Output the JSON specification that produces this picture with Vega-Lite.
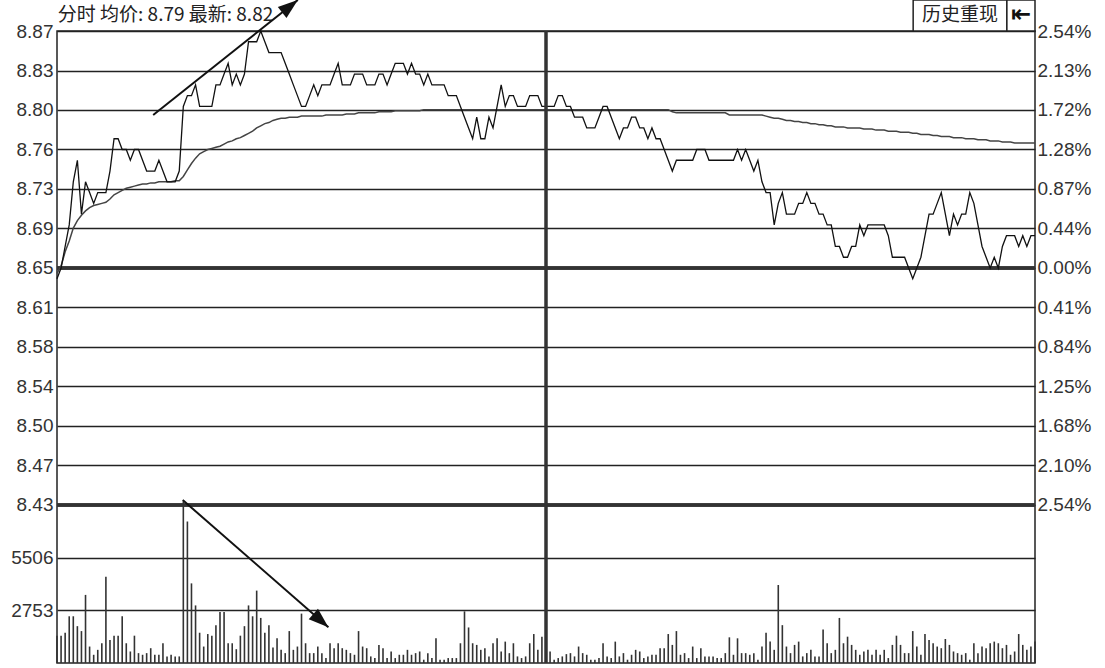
{
"$schema": "https://vega.github.io/schema/vega-lite/v6.json",
"width": 978,
"height": 632,
"autosize": "none",
"padding": {"left": 57, "top": 31, "right": 70, "bottom": 5},
"background": "white",
"config": {"view": {"stroke": "#222", "strokeWidth": 1.5}, "font": "Liberation Sans"},
"datasets": {
"one": [{}],
"levels": [{"p": 8.65}, {"p": 8.43}],
"minute": [
{"t":0,"p":8.64,"a":8.645,"v":1428},{"t":1,"p":8.65,"a":8.652,"v":1428},{"t":2,"p":8.67,"a":8.665,"v":1582},{"t":3,"p":8.69,"a":8.675,"v":2442},{"t":4,"p":8.73,"a":8.687,"v":2442},{"t":5,"p":8.75,"a":8.694,"v":1926},{"t":6,"p":8.70,"a":8.699,"v":1668},{"t":7,"p":8.73,"a":8.703,"v":3560},{"t":8,"p":8.72,"a":8.706,"v":860},{"t":9,"p":8.71,"a":8.708,"v":430},
{"t":10,"p":8.72,"a":8.709,"v":688},{"t":11,"p":8.72,"a":8.71,"v":1032},{"t":12,"p":8.72,"a":8.711,"v":4506},{"t":13,"p":8.74,"a":8.714,"v":1204},{"t":14,"p":8.77,"a":8.718,"v":1428},{"t":15,"p":8.77,"a":8.72,"v":1428},{"t":16,"p":8.76,"a":8.722,"v":2442},{"t":17,"p":8.76,"a":8.724,"v":1032},{"t":18,"p":8.75,"a":8.725,"v":602},{"t":19,"p":8.76,"a":8.726,"v":1428},
{"t":20,"p":8.76,"a":8.727,"v":516},{"t":21,"p":8.75,"a":8.728,"v":430},{"t":22,"p":8.74,"a":8.728,"v":516},{"t":23,"p":8.74,"a":8.729,"v":774},{"t":24,"p":8.74,"a":8.729,"v":430},{"t":25,"p":8.75,"a":8.73,"v":430},{"t":26,"p":8.74,"a":8.73,"v":1032},{"t":27,"p":8.73,"a":8.73,"v":344},{"t":28,"p":8.73,"a":8.73,"v":430},{"t":29,"p":8.73,"a":8.731,"v":344},
{"t":30,"p":8.74,"a":8.731,"v":344},{"t":31,"p":8.80,"a":8.735,"v":8450},{"t":32,"p":8.81,"a":8.741,"v":7396},{"t":33,"p":8.81,"a":8.747,"v":4162},{"t":34,"p":8.82,"a":8.752,"v":3010},{"t":35,"p":8.80,"a":8.756,"v":1582},{"t":36,"p":8.80,"a":8.758,"v":860},{"t":37,"p":8.80,"a":8.76,"v":1514},{"t":38,"p":8.80,"a":8.761,"v":1428},{"t":39,"p":8.82,"a":8.762,"v":1978},
{"t":40,"p":8.82,"a":8.763,"v":2666},{"t":41,"p":8.83,"a":8.765,"v":2666},{"t":42,"p":8.84,"a":8.767,"v":1032},{"t":43,"p":8.82,"a":8.768,"v":1032},{"t":44,"p":8.83,"a":8.77,"v":722},{"t":45,"p":8.82,"a":8.771,"v":1428},{"t":46,"p":8.83,"a":8.773,"v":1926},{"t":47,"p":8.86,"a":8.775,"v":3010},{"t":48,"p":8.86,"a":8.777,"v":2442},{"t":49,"p":8.86,"a":8.78,"v":3784},
{"t":50,"p":8.87,"a":8.782,"v":2356},{"t":51,"p":8.86,"a":8.784,"v":1582},{"t":52,"p":8.85,"a":8.785,"v":1978},{"t":53,"p":8.85,"a":8.787,"v":808},{"t":54,"p":8.85,"a":8.788,"v":1290},{"t":55,"p":8.85,"a":8.789,"v":688},{"t":56,"p":8.84,"a":8.789,"v":516},{"t":57,"p":8.83,"a":8.79,"v":1668},{"t":58,"p":8.82,"a":8.79,"v":688},{"t":59,"p":8.81,"a":8.79,"v":860},
{"t":60,"p":8.80,"a":8.791,"v":2580},{"t":61,"p":8.80,"a":8.791,"v":1032},{"t":62,"p":8.81,"a":8.791,"v":516},{"t":63,"p":8.82,"a":8.791,"v":516},{"t":64,"p":8.81,"a":8.791,"v":860},{"t":65,"p":8.82,"a":8.791,"v":516},{"t":66,"p":8.82,"a":8.792,"v":258},{"t":67,"p":8.82,"a":8.792,"v":1032},{"t":68,"p":8.83,"a":8.792,"v":774},{"t":69,"p":8.84,"a":8.792,"v":1032},
{"t":70,"p":8.82,"a":8.792,"v":774},{"t":71,"p":8.82,"a":8.793,"v":688},{"t":72,"p":8.82,"a":8.793,"v":516},{"t":73,"p":8.83,"a":8.793,"v":430},{"t":74,"p":8.83,"a":8.794,"v":1668},{"t":75,"p":8.83,"a":8.794,"v":860},{"t":76,"p":8.82,"a":8.794,"v":774},{"t":77,"p":8.82,"a":8.794,"v":344},{"t":78,"p":8.82,"a":8.794,"v":258},{"t":79,"p":8.83,"a":8.795,"v":946},
{"t":80,"p":8.83,"a":8.795,"v":774},{"t":81,"p":8.82,"a":8.795,"v":258},{"t":82,"p":8.83,"a":8.795,"v":602},{"t":83,"p":8.84,"a":8.796,"v":258},{"t":84,"p":8.84,"a":8.796,"v":430},{"t":85,"p":8.84,"a":8.796,"v":430},{"t":86,"p":8.83,"a":8.796,"v":688},{"t":87,"p":8.84,"a":8.796,"v":430},{"t":88,"p":8.83,"a":8.796,"v":516},{"t":89,"p":8.83,"a":8.796,"v":602},
{"t":90,"p":8.82,"a":8.797,"v":172},{"t":91,"p":8.83,"a":8.797,"v":516},{"t":92,"p":8.82,"a":8.797,"v":258},{"t":93,"p":8.82,"a":8.797,"v":1290},{"t":94,"p":8.82,"a":8.797,"v":172},{"t":95,"p":8.82,"a":8.797,"v":172},{"t":96,"p":8.81,"a":8.797,"v":258},{"t":97,"p":8.81,"a":8.797,"v":258},{"t":98,"p":8.81,"a":8.797,"v":258},{"t":99,"p":8.80,"a":8.797,"v":1032},
{"t":100,"p":8.79,"a":8.797,"v":2700},{"t":101,"p":8.78,"a":8.797,"v":1858},{"t":102,"p":8.77,"a":8.797,"v":1032},{"t":103,"p":8.79,"a":8.797,"v":946},{"t":104,"p":8.77,"a":8.797,"v":688},{"t":105,"p":8.77,"a":8.797,"v":774},{"t":106,"p":8.79,"a":8.797,"v":344},{"t":107,"p":8.78,"a":8.797,"v":1032},{"t":108,"p":8.80,"a":8.797,"v":1290},{"t":109,"p":8.82,"a":8.797,"v":602},
{"t":110,"p":8.80,"a":8.797,"v":1118},{"t":111,"p":8.81,"a":8.797,"v":516},{"t":112,"p":8.81,"a":8.797,"v":1032},{"t":113,"p":8.80,"a":8.797,"v":344},{"t":114,"p":8.80,"a":8.797,"v":258},{"t":115,"p":8.80,"a":8.797,"v":344},{"t":116,"p":8.81,"a":8.797,"v":1032},{"t":117,"p":8.81,"a":8.797,"v":1514},{"t":118,"p":8.81,"a":8.797,"v":688},{"t":119,"p":8.80,"a":8.797,"v":1376},
{"t":120,"p":8.80,"a":8.797,"v":600},{"t":121,"p":8.80,"a":8.797,"v":602},{"t":122,"p":8.80,"a":8.797,"v":172},{"t":123,"p":8.81,"a":8.797,"v":258},{"t":124,"p":8.81,"a":8.797,"v":344},{"t":125,"p":8.80,"a":8.797,"v":464},{"t":126,"p":8.80,"a":8.797,"v":516},{"t":127,"p":8.79,"a":8.797,"v":344},{"t":128,"p":8.79,"a":8.797,"v":860},{"t":129,"p":8.79,"a":8.797,"v":516},
{"t":130,"p":8.78,"a":8.797,"v":430},{"t":131,"p":8.78,"a":8.797,"v":172},{"t":132,"p":8.78,"a":8.797,"v":172},{"t":133,"p":8.79,"a":8.797,"v":258},{"t":134,"p":8.80,"a":8.797,"v":1032},{"t":135,"p":8.80,"a":8.797,"v":344},{"t":136,"p":8.79,"a":8.797,"v":258},{"t":137,"p":8.78,"a":8.797,"v":1118},{"t":138,"p":8.77,"a":8.797,"v":344},{"t":139,"p":8.78,"a":8.797,"v":516},
{"t":140,"p":8.78,"a":8.797,"v":172},{"t":141,"p":8.79,"a":8.797,"v":430},{"t":142,"p":8.79,"a":8.797,"v":688},{"t":143,"p":8.78,"a":8.797,"v":602},{"t":144,"p":8.78,"a":8.797,"v":258},{"t":145,"p":8.77,"a":8.797,"v":344},{"t":146,"p":8.78,"a":8.797,"v":430},{"t":147,"p":8.77,"a":8.797,"v":430},{"t":148,"p":8.77,"a":8.797,"v":774},{"t":149,"p":8.76,"a":8.797,"v":774},
{"t":150,"p":8.75,"a":8.797,"v":1514},{"t":151,"p":8.74,"a":8.795,"v":946},{"t":152,"p":8.75,"a":8.794,"v":1668},{"t":153,"p":8.75,"a":8.794,"v":430},{"t":154,"p":8.75,"a":8.794,"v":516},{"t":155,"p":8.75,"a":8.794,"v":258},{"t":156,"p":8.75,"a":8.794,"v":860},{"t":157,"p":8.76,"a":8.794,"v":258},{"t":158,"p":8.76,"a":8.794,"v":774},{"t":159,"p":8.76,"a":8.794,"v":344},
{"t":160,"p":8.75,"a":8.794,"v":344},{"t":161,"p":8.75,"a":8.794,"v":344},{"t":162,"p":8.75,"a":8.794,"v":258},{"t":163,"p":8.75,"a":8.794,"v":258},{"t":164,"p":8.75,"a":8.794,"v":516},{"t":165,"p":8.75,"a":8.792,"v":1342},{"t":166,"p":8.75,"a":8.792,"v":430},{"t":167,"p":8.76,"a":8.792,"v":1290},{"t":168,"p":8.75,"a":8.792,"v":516},{"t":169,"p":8.76,"a":8.792,"v":516},
{"t":170,"p":8.75,"a":8.792,"v":430},{"t":171,"p":8.74,"a":8.792,"v":516},{"t":172,"p":8.75,"a":8.792,"v":172},{"t":173,"p":8.73,"a":8.792,"v":860},{"t":174,"p":8.72,"a":8.791,"v":1582},{"t":175,"p":8.72,"a":8.79,"v":1118},{"t":176,"p":8.69,"a":8.789,"v":688},{"t":177,"p":8.71,"a":8.789,"v":4076},{"t":178,"p":8.72,"a":8.788,"v":1978},{"t":179,"p":8.70,"a":8.787,"v":860},
{"t":180,"p":8.70,"a":8.787,"v":516},{"t":181,"p":8.70,"a":8.786,"v":946},{"t":182,"p":8.71,"a":8.786,"v":1118},{"t":183,"p":8.71,"a":8.785,"v":344},{"t":184,"p":8.72,"a":8.785,"v":516},{"t":185,"p":8.71,"a":8.784,"v":688},{"t":186,"p":8.71,"a":8.784,"v":344},{"t":187,"p":8.70,"a":8.783,"v":344},{"t":188,"p":8.70,"a":8.783,"v":1754},{"t":189,"p":8.69,"a":8.782,"v":1032},
{"t":190,"p":8.69,"a":8.782,"v":516},{"t":191,"p":8.67,"a":8.781,"v":688},{"t":192,"p":8.67,"a":8.781,"v":2356},{"t":193,"p":8.66,"a":8.781,"v":1032},{"t":194,"p":8.66,"a":8.78,"v":1376},{"t":195,"p":8.67,"a":8.78,"v":946},{"t":196,"p":8.67,"a":8.78,"v":688},{"t":197,"p":8.69,"a":8.78,"v":430},{"t":198,"p":8.68,"a":8.779,"v":602},{"t":199,"p":8.69,"a":8.779,"v":688},
{"t":200,"p":8.69,"a":8.779,"v":430},{"t":201,"p":8.69,"a":8.778,"v":688},{"t":202,"p":8.69,"a":8.778,"v":430},{"t":203,"p":8.69,"a":8.778,"v":688},{"t":204,"p":8.68,"a":8.777,"v":258},{"t":205,"p":8.66,"a":8.777,"v":946},{"t":206,"p":8.66,"a":8.777,"v":1428},{"t":207,"p":8.66,"a":8.776,"v":946},{"t":208,"p":8.66,"a":8.776,"v":516},{"t":209,"p":8.65,"a":8.776,"v":516},
{"t":210,"p":8.64,"a":8.775,"v":1668},{"t":211,"p":8.65,"a":8.775,"v":860},{"t":212,"p":8.66,"a":8.774,"v":430},{"t":213,"p":8.68,"a":8.774,"v":1514},{"t":214,"p":8.70,"a":8.774,"v":1204},{"t":215,"p":8.70,"a":8.773,"v":1032},{"t":216,"p":8.71,"a":8.773,"v":860},{"t":217,"p":8.72,"a":8.772,"v":774},{"t":218,"p":8.70,"a":8.772,"v":1256},{"t":219,"p":8.68,"a":8.772,"v":946},
{"t":220,"p":8.70,"a":8.771,"v":602},{"t":221,"p":8.69,"a":8.771,"v":516},{"t":222,"p":8.70,"a":8.771,"v":430},{"t":223,"p":8.70,"a":8.77,"v":516},{"t":224,"p":8.72,"a":8.77,"v":172},{"t":225,"p":8.71,"a":8.77,"v":1032},{"t":226,"p":8.69,"a":8.769,"v":516},{"t":227,"p":8.67,"a":8.769,"v":860},{"t":228,"p":8.66,"a":8.769,"v":774},{"t":229,"p":8.65,"a":8.768,"v":1032},
{"t":230,"p":8.66,"a":8.768,"v":1118},{"t":231,"p":8.65,"a":8.768,"v":1032},{"t":232,"p":8.67,"a":8.767,"v":774},{"t":233,"p":8.68,"a":8.767,"v":946},{"t":234,"p":8.68,"a":8.767,"v":430},{"t":235,"p":8.68,"a":8.766,"v":602},{"t":236,"p":8.67,"a":8.766,"v":1514},{"t":237,"p":8.68,"a":8.766,"v":946},{"t":238,"p":8.67,"a":8.766,"v":688},{"t":239,"p":8.68,"a":8.766,"v":860},
{"t":240,"p":8.68,"a":8.766,"v":1118}
]
},
"layer": [
{
"data": {"name": "minute"},
"mark": {"type": "rule", "strokeWidth": 1.6, "color": "#333"},
"encoding": {
"x": {"field": "t", "type": "quantitative", "scale": {"domain": [0, 240], "nice": false, "zero": false}, "axis": null},
"y": {"field": "v", "type": "quantitative", "scale": {"domain": [0, 33036], "nice": false}, "axis": {"orient": "left", "values": [2753, 5506], "format": "d", "title": null, "ticks": false, "domain": false, "labelPadding": 4, "labelFont": "Liberation Sans", "labelFontSize": 19, "labelColor": "#333", "grid": true, "gridColor": "#222", "gridWidth": 1.6}},
"y2": {"datum": 0}
}
},
{
"data": {"name": "levels"},
"mark": {"type": "rule", "strokeWidth": 3.5, "color": "#333"},
"encoding": {
"y": {"field": "p", "type": "quantitative", "scale": {"domain": [8.28333, 8.87], "nice": false, "zero": false}, "axis": {"orient": "left", "values": [8.43, 8.466667, 8.503333, 8.54, 8.576667, 8.613333, 8.65, 8.686667, 8.723333, 8.76, 8.796667, 8.833333, 8.87], "labelExpr": "['8.43','8.47','8.50','8.54','8.58','8.61','8.65','8.69','8.73','8.76','8.80','8.83','8.87'][round((datum.value-8.43)/0.0366667)]", "title": null, "ticks": false, "domain": false, "labelPadding": 4, "labelFont": "Liberation Sans", "labelFontSize": 19, "labelColor": "#333", "grid": true, "gridColor": "#222", "gridWidth": 1.6}}
}
},
{
"data": {"name": "levels"},
"mark": {"type": "rule", "strokeWidth": 3.5, "color": "#333"},
"encoding": {
"y": {"field": "p", "type": "quantitative", "scale": {"domain": [8.28333, 8.87], "nice": false, "zero": false}, "axis": {"orient": "right", "values": [8.43, 8.466667, 8.503333, 8.54, 8.576667, 8.613333, 8.65, 8.686667, 8.723333, 8.76, 8.796667, 8.833333, 8.87], "labelExpr": "['2.54%','2.10%','1.68%','1.25%','0.84%','0.41%','0.00%','0.44%','0.87%','1.28%','1.72%','2.13%','2.54%'][round((datum.value-8.43)/0.0366667)]", "title": null, "ticks": false, "domain": false, "labelPadding": 2, "labelFont": "Liberation Sans", "labelFontSize": 19, "labelColor": "#333", "grid": false}}
}
},
{
"data": {"name": "minute"},
"mark": {"type": "line", "strokeWidth": 1.5, "color": "#444"},
"encoding": {
"x": {"field": "t", "type": "quantitative", "scale": {"domain": [0, 240], "nice": false, "zero": false}, "axis": null},
"y": {"field": "a", "type": "quantitative", "scale": {"domain": [8.28333, 8.87], "nice": false, "zero": false}, "axis": null}
}
},
{
"data": {"name": "minute"},
"mark": {"type": "line", "strokeWidth": 1.3, "color": "#111"},
"encoding": {
"x": {"field": "t", "type": "quantitative", "scale": {"domain": [0, 240], "nice": false, "zero": false}, "axis": null},
"y": {"field": "p", "type": "quantitative", "scale": {"domain": [8.28333, 8.87], "nice": false, "zero": false}, "axis": null}
}
},
{
"data": {"name": "one"},
"mark": {"type": "rule", "strokeWidth": 3.5, "color": "#333"},
"encoding": {"x": {"datum": 120, "type": "quantitative", "scale": {"domain": [0, 240], "nice": false, "zero": false}, "axis": null}}
},
{
"data": {"name": "one"},
"mark": {"type": "text", "font": "Noto Sans CJK SC", "fontSize": 19, "color": "#222", "align": "left", "baseline": "middle"},
"encoding": {
"x": {"datum": 0.2, "type": "quantitative", "scale": {"domain": [0, 240], "nice": false, "zero": false}, "axis": null},
"y": {"datum": 8.8849, "type": "quantitative", "scale": {"domain": [8.28333, 8.87], "nice": false, "zero": false}, "axis": null},
"text": {"value": "分时 均价: 8.79 最新: 8.82"}
}
},
{
"data": {"name": "one"},
"mark": {"type": "rule", "strokeWidth": 2, "color": "#111"},
"encoding": {
"x": {"datum": 23.6, "type": "quantitative", "scale": {"domain": [0, 240], "nice": false, "zero": false}, "axis": null},
"x2": {"datum": 59.1},
"y": {"datum": 8.792, "type": "quantitative", "scale": {"domain": [8.28333, 8.87], "nice": false, "zero": false}, "axis": null},
"y2": {"datum": 8.8988}
}
},
{
"data": {"name": "one"},
"mark": {"type": "point", "shape": "M0,0L0.7,2L-0.7,2Z", "filled": true, "size": 400, "color": "#111", "opacity": 1, "angle": 51.6},
"encoding": {
"x": {"datum": 59.1, "type": "quantitative", "scale": {"domain": [0, 240], "nice": false, "zero": false}, "axis": null},
"y": {"datum": 8.8988, "type": "quantitative", "scale": {"domain": [8.28333, 8.87], "nice": false, "zero": false}, "axis": null}
}
},
{
"data": {"name": "one"},
"mark": {"type": "rule", "strokeWidth": 2, "color": "#111"},
"encoding": {
"x": {"datum": 30.85, "type": "quantitative", "scale": {"domain": [0, 240], "nice": false, "zero": false}, "axis": null},
"x2": {"datum": 66.6},
"y": {"datum": 8.4346, "type": "quantitative", "scale": {"domain": [8.28333, 8.87], "nice": false, "zero": false}, "axis": null},
"y2": {"datum": 8.3165}
}
},
{
"data": {"name": "one"},
"mark": {"type": "point", "shape": "M0,0L0.7,2L-0.7,2Z", "filled": true, "size": 400, "color": "#111", "opacity": 1, "angle": 131.2},
"encoding": {
"x": {"datum": 66.6, "type": "quantitative", "scale": {"domain": [0, 240], "nice": false, "zero": false}, "axis": null},
"y": {"datum": 8.3165, "type": "quantitative", "scale": {"domain": [8.28333, 8.87], "nice": false, "zero": false}, "axis": null}
}
},
{
"data": {"name": "one"},
"mark": {"type": "rect", "fill": "white", "stroke": "#222", "strokeWidth": 1.5},
"encoding": {
"x": {"datum": 210.1, "type": "quantitative", "scale": {"domain": [0, 240], "nice": false, "zero": false}, "axis": null},
"x2": {"datum": 233.1},
"y": {"datum": 8.8988, "type": "quantitative", "scale": {"domain": [8.28333, 8.87], "nice": false, "zero": false}, "axis": null},
"y2": {"datum": 8.87}
}
},
{
"data": {"name": "one"},
"mark": {"type": "rect", "fill": "white", "stroke": "#222", "strokeWidth": 1.5},
"encoding": {
"x": {"datum": 233.1, "type": "quantitative", "scale": {"domain": [0, 240], "nice": false, "zero": false}, "axis": null},
"x2": {"datum": 240},
"y": {"datum": 8.8988, "type": "quantitative", "scale": {"domain": [8.28333, 8.87], "nice": false, "zero": false}, "axis": null},
"y2": {"datum": 8.87}
}
},
{
"data": {"name": "one"},
"mark": {"type": "text", "font": "Noto Sans CJK SC", "fontSize": 19, "color": "#222", "align": "center", "baseline": "middle"},
"encoding": {
"x": {"datum": 221.6, "type": "quantitative", "scale": {"domain": [0, 240], "nice": false, "zero": false}, "axis": null},
"y": {"datum": 8.8849, "type": "quantitative", "scale": {"domain": [8.28333, 8.87], "nice": false, "zero": false}, "axis": null},
"text": {"value": "历史重现"}
}
},
{
"data": {"name": "one"},
"mark": {"type": "text", "font": "DejaVu Sans", "fontSize": 24, "fontWeight": "bold", "color": "#111", "align": "center", "baseline": "middle"},
"encoding": {
"x": {"datum": 236.6, "type": "quantitative", "scale": {"domain": [0, 240], "nice": false, "zero": false}, "axis": null},
"y": {"datum": 8.8849, "type": "quantitative", "scale": {"domain": [8.28333, 8.87], "nice": false, "zero": false}, "axis": null},
"text": {"value": "⇤"}
}
}
],
"resolve": {"scale": {"y": "independent"}, "axis": {"y": "independent"}}
}
